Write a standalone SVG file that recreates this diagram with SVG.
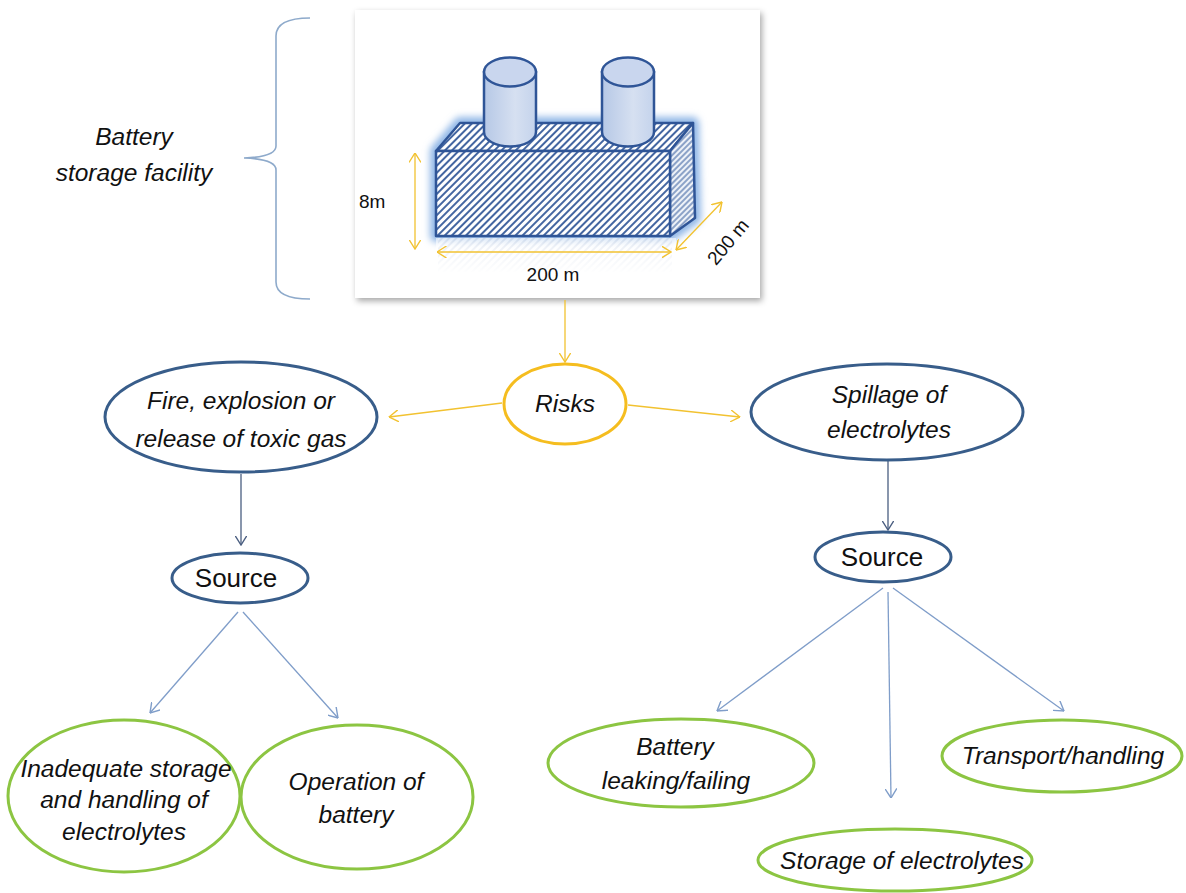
<svg xmlns="http://www.w3.org/2000/svg" width="1186" height="893" viewBox="0 0 1186 893">
  <style>
    .lbl { font-family: "Liberation Sans", Arial, sans-serif; font-size: 24.5px; font-style: italic; fill: #111; text-anchor: middle; }
    .src { font-family: "Liberation Sans", Arial, sans-serif; font-size: 26px; fill: #111; text-anchor: middle; }
    .dim { font-family: "Liberation Sans", Arial, sans-serif; font-size: 19px; fill: #111; }
    .risk { fill: #fff; stroke: #f5bd1f; stroke-width: 3; }
    .hazard { fill: #fff; stroke: #385d8a; stroke-width: 3; }
    .cause { fill: #fff; stroke: #8cc542; stroke-width: 3; }
    .gold { stroke: #f2c230; stroke-width: 1.3; fill: none; }
    .navy { stroke: #4a5e80; stroke-width: 1.3; fill: none; }
    .steel { stroke: #7f9dc9; stroke-width: 1.3; fill: none; }
    .edge { stroke: #2f5597; stroke-width: 2.5; stroke-linejoin: round; }
  </style>
  <defs>
    <marker id="ah-gold" viewBox="0 0 10 12" refX="9.5" refY="6" markerWidth="10" markerHeight="12" markerUnits="userSpaceOnUse" orient="auto-start-reverse">
      <path d="M0,0 L9.5,6 L0,12" fill="none" stroke="#f2c230" stroke-width="1.4"/>
    </marker>
    <marker id="ah-navy" viewBox="0 0 10 12" refX="9.5" refY="6" markerWidth="10" markerHeight="12" markerUnits="userSpaceOnUse" orient="auto">
      <path d="M0,0 L9.5,6 L0,12" fill="none" stroke="#4a5e80" stroke-width="1.4"/>
    </marker>
    <marker id="ah-steel" viewBox="0 0 10 12" refX="9.5" refY="6" markerWidth="10" markerHeight="12" markerUnits="userSpaceOnUse" orient="auto">
      <path d="M0,0 L9.5,6 L0,12" fill="none" stroke="#7f9dc9" stroke-width="1.4"/>
    </marker>
    <pattern id="hatch" width="5" height="5" patternUnits="userSpaceOnUse" patternTransform="rotate(45)">
      <rect width="5" height="5" fill="#fff"/>
      <line x1="1" y1="0" x2="1" y2="5" stroke="#2f5597" stroke-width="1.8"/>
    </pattern>
    <pattern id="hatch-side" width="4" height="4" patternUnits="userSpaceOnUse" patternTransform="rotate(45)">
      <rect width="4" height="4" fill="#eef2f8"/>
      <line x1="1" y1="0" x2="1" y2="4" stroke="#4a6da8" stroke-width="1.2"/>
    </pattern>
    <linearGradient id="can" x1="0" y1="0" x2="1" y2="0">
      <stop offset="0" stop-color="#b6c8e6"/>
      <stop offset="0.6" stop-color="#d6e0f1"/>
      <stop offset="1" stop-color="#c4d3ec"/>
    </linearGradient>
    <linearGradient id="fade" x1="0" y1="0" x2="0" y2="1">
      <stop offset="0" stop-color="#fff" stop-opacity="0.55"/>
      <stop offset="1" stop-color="#fff" stop-opacity="1"/>
    </linearGradient>
    <filter id="shadow" x="-5%" y="-5%" width="110%" height="115%">
      <feDropShadow dx="2" dy="3" stdDeviation="3" flood-color="#000" flood-opacity="0.35"/>
    </filter>
    <filter id="glow" x="-10%" y="-20%" width="120%" height="140%">
      <feGaussianBlur stdDeviation="3.5"/>
    </filter>
  </defs>

  <!-- facility label with brace -->
  <g id="facility-label">
    <path d="M310,18 Q276,18 276,36 L276,146 Q276,157 244,158 Q276,159 276,170 L276,282 Q276,299 310,299" fill="none" stroke="#8eaacb" stroke-width="1.6"/>
    <text class="lbl" x="134" y="145" font-size="25.5">Battery</text>
    <text class="lbl" x="134" y="181" font-size="25.5">storage facility</text>
  </g>

  <!-- battery storage facility sketch -->
  <g id="facility">
    <rect x="355" y="10" width="405" height="288" fill="#fff" filter="url(#shadow)"/>
    <!-- soft blue glow round the block -->
    <path d="M436,151 L460,123 L693,123 L695,218 L670,236 L436,236 Z" fill="none" stroke="#8fb6e6" stroke-width="12" stroke-linejoin="round" filter="url(#glow)"/>
    <!-- faint reflection -->
    <rect x="438" y="238" width="234" height="34" fill="url(#hatch)" opacity="0.25"/>
    <rect x="436" y="238" width="240" height="36" fill="url(#fade)"/>
    <!-- block faces -->
    <polygon class="edge" points="436,151 460,123 693,123 670,151" fill="url(#hatch)"/>
    <polygon class="edge" points="670,151 693,123 695,218 670,236" fill="url(#hatch-side)"/>
    <rect class="edge" x="436" y="151" width="234" height="85" fill="url(#hatch)"/>
    <!-- cylinders -->
    <path d="M484,72 L484,132 A26,14.5 0 0 0 536,132 L536,72 Z" fill="url(#can)" stroke="#2f5597" stroke-width="2.5"/>
    <ellipse cx="510" cy="72" rx="26" ry="14.5" fill="#c9d6ee" stroke="#2f5597" stroke-width="2.5"/>
    <path d="M602,72 L602,132 A26,14.5 0 0 0 654,132 L654,72 Z" fill="url(#can)" stroke="#2f5597" stroke-width="2.5"/>
    <ellipse cx="628" cy="72" rx="26" ry="14.5" fill="#c9d6ee" stroke="#2f5597" stroke-width="2.5"/>
    <!-- dimensions -->
    <line x1="415" y1="153" x2="415" y2="249" class="gold" stroke-width="2.2" marker-start="url(#ah-gold)" marker-end="url(#ah-gold)"/>
    <line x1="437" y1="252" x2="671" y2="252" class="gold" stroke-width="1.3" marker-start="url(#ah-gold)" marker-end="url(#ah-gold)"/>
    <line x1="676" y1="250" x2="722" y2="202" class="gold" stroke-width="2" marker-start="url(#ah-gold)" marker-end="url(#ah-gold)"/>
    <text class="dim" x="359" y="208">8m</text>
    <text class="dim" x="553" y="281" text-anchor="middle">200 m</text>
    <text class="dim" x="0" y="0" text-anchor="middle" transform="translate(733,246) rotate(-50)">200 m</text>
  </g>

  <!-- connectors -->
  <g id="connectors">
    <line class="gold" x1="565" y1="300" x2="565" y2="362" marker-end="url(#ah-gold)"/>
    <line class="gold" x1="502" y1="403" x2="389" y2="417" marker-end="url(#ah-gold)"/>
    <line class="gold" x1="628" y1="405" x2="740" y2="417" marker-end="url(#ah-gold)"/>
    <line class="navy" x1="241" y1="474" x2="241" y2="545" marker-end="url(#ah-navy)"/>
    <line class="navy" x1="888" y1="461" x2="888" y2="530" marker-end="url(#ah-navy)"/>
    <line class="steel" x1="238" y1="612" x2="150" y2="713" marker-end="url(#ah-steel)"/>
    <line class="steel" x1="243" y1="612" x2="338" y2="718" marker-end="url(#ah-steel)"/>
    <line class="steel" x1="883" y1="588" x2="717" y2="711" marker-end="url(#ah-steel)"/>
    <line class="steel" x1="888" y1="592" x2="891" y2="798" marker-end="url(#ah-steel)"/>
    <line class="steel" x1="893" y1="588" x2="1064" y2="711" marker-end="url(#ah-steel)"/>
  </g>

  <g id="risks">
    <ellipse class="risk" cx="565" cy="404" rx="61" ry="40"/>
    <text class="lbl" x="565" y="412">Risks</text>
  </g>

  <g id="fire">
    <ellipse class="hazard" cx="241" cy="417" rx="136" ry="55"/>
    <text class="lbl" x="241" y="409">Fire, explosion or</text>
    <text class="lbl" x="241" y="447">release of toxic gas</text>
  </g>

  <g id="spillage">
    <ellipse class="hazard" cx="887" cy="412" rx="136" ry="48"/>
    <text class="lbl" x="889" y="403">Spillage of</text>
    <text class="lbl" x="889" y="438">electrolytes</text>
  </g>

  <g id="source-fire">
    <ellipse class="hazard" cx="240" cy="578" rx="68" ry="25"/>
    <text class="src" x="236" y="587">Source</text>
  </g>

  <g id="source-spillage">
    <ellipse class="hazard" cx="883" cy="557" rx="68" ry="25"/>
    <text class="src" x="882" y="566">Source</text>
  </g>

  <g id="inadequate-storage">
    <ellipse class="cause" cx="124" cy="796" rx="116" ry="76"/>
    <text class="lbl" x="126" y="777">Inadequate storage</text>
    <text class="lbl" x="124" y="808">and handling  of</text>
    <text class="lbl" x="124" y="840">electrolytes</text>
  </g>

  <g id="operation">
    <ellipse class="cause" cx="357" cy="797" rx="116" ry="72"/>
    <text class="lbl" x="356" y="790">Operation of</text>
    <text class="lbl" x="356" y="823">battery</text>
  </g>

  <g id="battery-leaking">
    <ellipse class="cause" cx="681" cy="763" rx="133" ry="44"/>
    <text class="lbl" x="675" y="755">Battery</text>
    <text class="lbl" x="676" y="789">leaking/failing</text>
  </g>

  <g id="transport">
    <ellipse class="cause" cx="1062" cy="756" rx="120" ry="36"/>
    <text class="lbl" x="1063" y="764">Transport/handling</text>
  </g>

  <g id="storage">
    <ellipse class="cause" cx="895" cy="860" rx="137" ry="31"/>
    <text class="lbl" x="902" y="869">Storage of electrolytes</text>
  </g>
</svg>
